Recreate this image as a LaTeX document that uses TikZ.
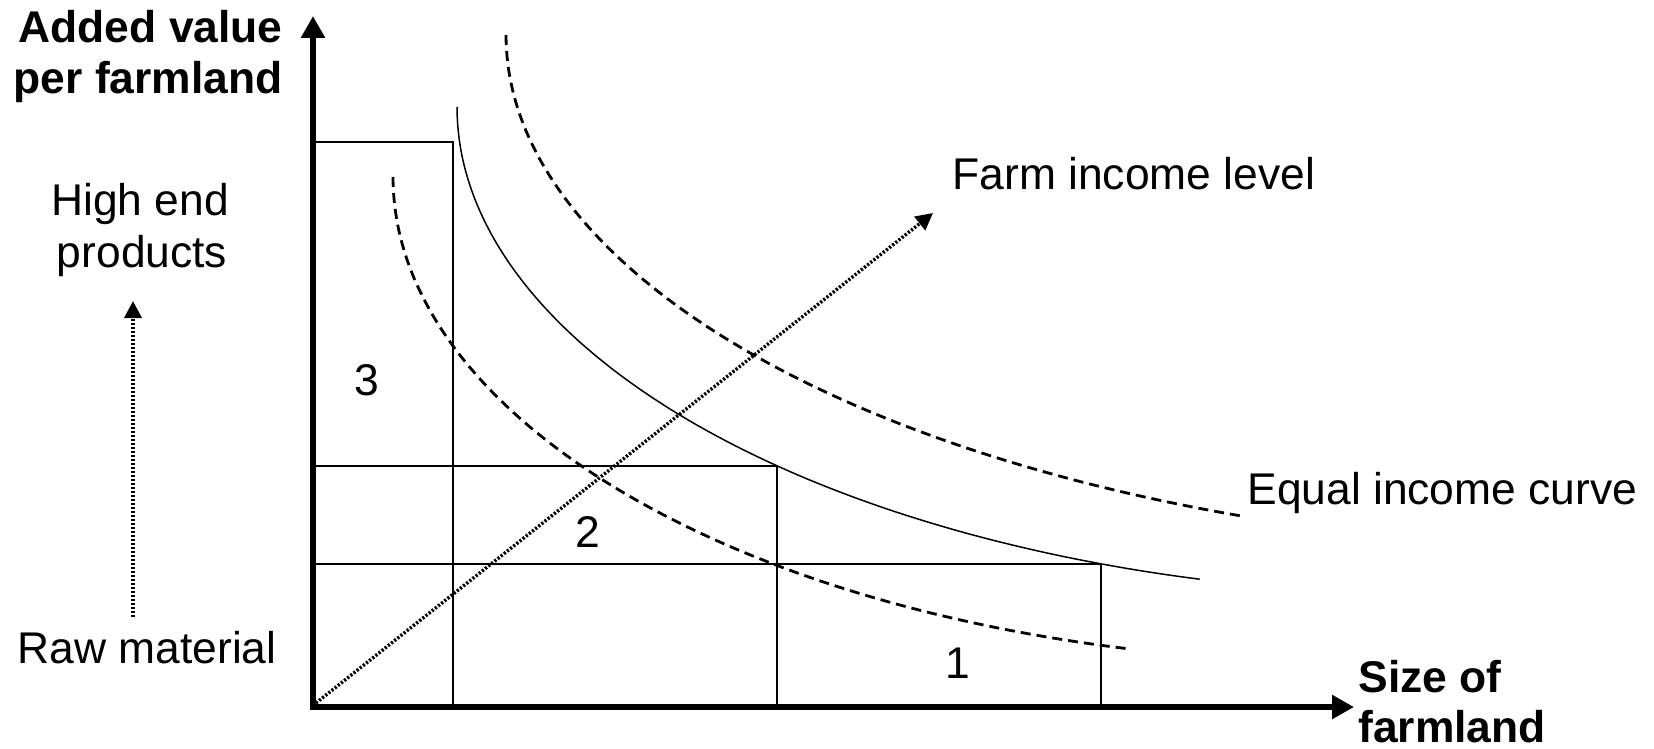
\documentclass[tikz,border=0pt]{standalone}
\usepackage{fontspec}
\setmainfont{Liberation Sans}
\usetikzlibrary{arrows.meta}
\begin{document}
\begin{tikzpicture}[x=0.5pt,y=-0.5pt,
  txt/.style={inner sep=0pt,font=\fontsize{22.2}{26}\selectfont},
  btxt/.style={inner sep=0pt,font=\fontsize{22.2}{26}\selectfont\bfseries},
  axisline/.style={line width=3.3pt,line join=miter,{Triangle[width=11.5pt,length=11pt]}-{Triangle[width=11.5pt,length=11pt]}},
  gridline/.style={line width=0.7pt},
  solidcurve/.style={line width=0.75pt},
  dashcurve/.style={line width=1.4pt,dash pattern=on 5pt off 3pt},
  dotarrow/.style={line width=1.7pt,dash pattern=on 1.1pt off 0.9pt,-{Triangle[width=8.5pt,length=8.5pt]}}
]
\useasboundingbox (0,0) rectangle (1654,749);
% key coordinates
\coordinate (ytip) at (313,16);
\coordinate (O) at (313,707);
\coordinate (xtip) at (1354,707);
\coordinate (r3tl) at (313,142);
\coordinate (r3tr) at (453,142);
\coordinate (r3b) at (453,707);
\coordinate (r2l) at (313,466);
\coordinate (r2tr) at (777,466);
\coordinate (r2b) at (777,707);
\coordinate (r1l) at (313,564);
\coordinate (r1tr) at (1101,564);
\coordinate (r1b) at (1101,707);
\coordinate (dstart) at (316,703);
\coordinate (dend) at (933,213);
\coordinate (vstart) at (133,617);
\coordinate (vend) at (133,301);

% grid
\draw[gridline] (r3tl) -- (r3tr) -- (r3b);
\draw[gridline] (r2l) -- (r2tr) -- (r2b);
\draw[gridline] (r1l) -- (r1tr) -- (r1b);

% equal income curves (elliptical arcs)
\draw[solidcurve] plot[domain=180:104.6,samples=90,smooth] ({1450+993*cos(\x)},{107+488*sin(\x)});
\draw[dashcurve] plot[domain=180:110.7,samples=90,smooth] ({1650+1144*cos(\x)},{35+515*sin(\x)});
\draw[dashcurve] plot[domain=180:103.3,samples=90,smooth] ({1350+957*cos(\x)},{177+485*sin(\x)});

% arrows
\draw[dotarrow] (dstart) -- (dend);
\draw[dotarrow] (vstart) -- (vend);
\draw[axisline] (ytip) -- (O) -- (xtip);

% texts
\node[btxt,anchor=base east] (av) at (283,43) {Added value};
\node[btxt,anchor=base east] (pf) at (283,94) {per farmland};
\node[txt,anchor=base] (he) at (140,215) {High end};
\node[txt,anchor=base] (pr) at (142,267) {products};
\node[txt,anchor=base] (rm) at (147,663) {Raw material};
\node[btxt,anchor=base west] (so) at (1358,692) {Size of};
\node[btxt,anchor=base west] (fl) at (1358,742) {farmland};
\node[txt,anchor=base west] (fil) at (952,190) {Farm income level};
\node[txt,anchor=base west] (eic) at (1247,504) {Equal income curve};
\node[txt] (n3) at (367,380) {3};
\node[txt] (n2) at (588,532) {2};
\node[txt] (n1) at (958,663) {1};
\end{tikzpicture}
\end{document}
